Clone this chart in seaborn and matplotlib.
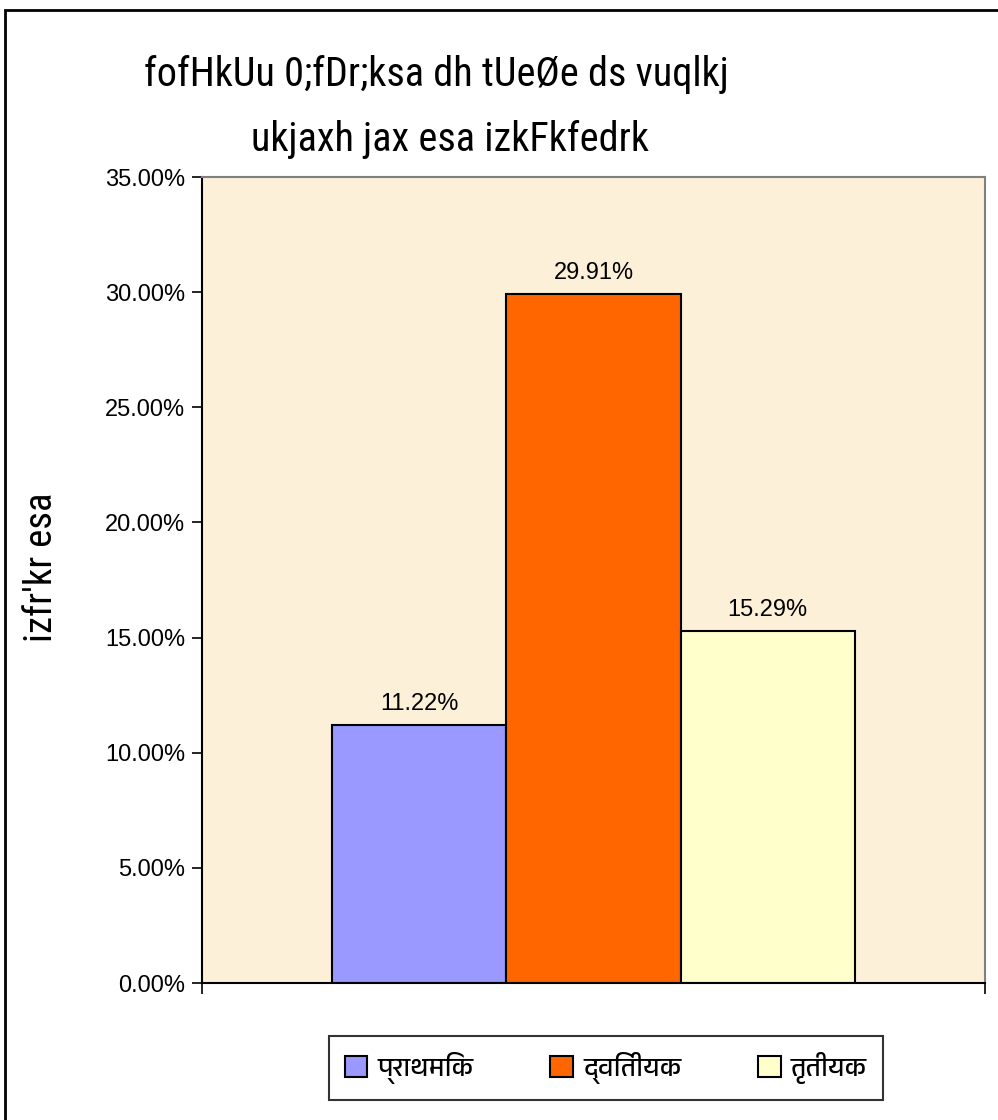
import matplotlib
matplotlib.use("Agg")
import matplotlib.pyplot as plt
from matplotlib import font_manager
from matplotlib.ticker import PercentFormatter
from matplotlib.patches import Rectangle
import seaborn as sns
import pandas as pd

# ---- data ----
series = ["प्राथमिक", "द्वितीयक", "तृतीयक"]
values = [11.22, 29.91, 15.29]
colors = ["#9999FF", "#FF6600", "#FFFFCC"]
title_lines = ["fofHkUu 0;fDr;ksa dh tUeØe ds vuqlkj", "ukjaxh jax esa izkFkfedrk"]
ylabel = "izfr'kr esa"
yticks = [0, 5, 10, 15, 20, 25, 30, 35]

df = pd.DataFrame({"cat": [""] * len(series), "series": series, "val": values})

sns.set_theme(style="white")
names = {f.name for f in font_manager.fontManager.ttflist}
plt.rcParams["font.family"] = ["Liberation Sans", "DejaVu Sans"]
for k in ["text.color", "axes.labelcolor", "xtick.color", "ytick.color"]:
    plt.rcParams[k] = "black"

# Devanagari font if any
deva = None
for f in font_manager.fontManager.ttflist:
    n = f.name.lower()
    if any(k in n for k in ["devanagari", "lohit", "mukta", "gargi", "mangal", "kalimati", "hind", "poppins", "sarai"]):
        deva = f.name
        break
legend_family = [deva, "DejaVu Sans"] if deva else ["DejaVu Sans"]

narrow = None
for cand in ["Liberation Sans Narrow", "Roboto Condensed", "Open Sans Condensed", "DejaVu Sans"]:
    if cand in names:
        narrow = cand
        break

fig = plt.figure(figsize=(9.98, 11.2), dpi=100)
fig.patch.set_facecolor("white")
ax = fig.add_axes([202 / 998, 1 - 983 / 1120, (985 - 202) / 998, (983 - 177) / 1120])
ax.set_facecolor("#FDF0D9")

sns.barplot(data=df, x="cat", y="val", hue="series", palette=colors,
            edgecolor="black", linewidth=1.5, width=0.667, saturation=1,
            ax=ax, legend=True)

ax.set_xlim(-0.5, 0.5)
ax.set_ylim(0, 35)
ax.set_yticks(yticks)
ax.yaxis.set_major_formatter(PercentFormatter(xmax=100, decimals=2))
ax.set_xticks([-0.5, 0.5])
ax.set_xticklabels(["", ""])
ax.set_xlabel("")
ax.set_ylabel("")
ax.tick_params(axis="y", direction="out", length=7, width=1.2, color="black",
               labelsize=17, labelcolor="black", pad=5, left=True)
ax.tick_params(axis="x", direction="out", length=8, width=1.2, color="black", bottom=True)
for s in ["left", "bottom"]:
    ax.spines[s].set_color("black")
    ax.spines[s].set_linewidth(1.5)
for s in ["top", "right"]:
    ax.spines[s].set_color("#808080")
    ax.spines[s].set_linewidth(1.5)

for c in ax.containers:
    ax.bar_label(c, fmt="{:.2f}%", padding=7, fontsize=17, color="black")

# title
fstretch = "condensed"
fig.text(436 / 998, 1 - 74 / 1120, title_lines[0], ha="center", va="center",
         fontsize=29, family=narrow, stretch=fstretch, color="black")
fig.text(450 / 998, 1 - 139 / 1120, title_lines[1], ha="center", va="center",
         fontsize=29, family=narrow, stretch=fstretch, color="black")
fig.text(42 / 998, 1 - 567 / 1120, ylabel, ha="center", va="center", rotation=90,
         fontsize=28, family=narrow, stretch=fstretch, color="black")

# legend
handles, labels = ax.get_legend_handles_labels()
ax.legend_.remove()
leg = fig.legend(handles, labels, loc="center", bbox_to_anchor=(606 / 998, 1 - 1068 / 1120),
                 ncol=3, frameon=True, fancybox=False, shadow=False,
                 prop={"family": legend_family, "size": 19},
                 handlelength=0.85, handleheight=0.85, handletextpad=0.4,
                 columnspacing=2.9, borderpad=0.6)
leg.get_frame().set_edgecolor("black")
leg.get_frame().set_linewidth(1.5)
for t in leg.get_texts():
    t.set_color("black")

# outer border
fig.patches.append(Rectangle((5 / 998, -0.05), 1.1, 1 - 10 / 1120 + 0.05,
                             transform=fig.transFigure, fill=False,
                             edgecolor="black", linewidth=2))

fig.savefig("out.png", dpi=100)
